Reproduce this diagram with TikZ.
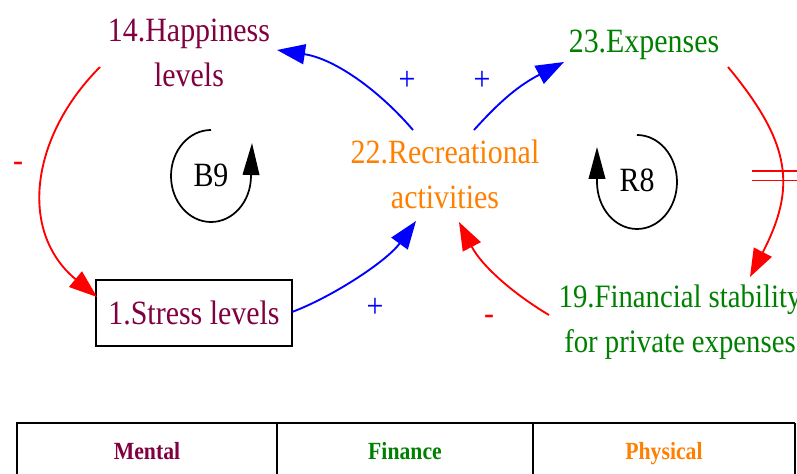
\documentclass[tikz,border=0pt]{standalone}
\usepackage{fontspec}
\setmainfont[FakeStretch=0.88]{Liberation Serif}
\usetikzlibrary{arrows.meta}
\definecolor{cmaroon}{RGB}{128,0,64}
\definecolor{cgreen}{RGB}{0,128,0}
\definecolor{corange}{RGB}{255,128,0}
\tikzset{
  lbl/.style={font=\fontsize{25.5pt}{33.75pt}\selectfont, align=center, inner sep=0pt},
  tbl/.style={font=\fontsize{18.5pt}{20pt}\selectfont\bfseries, inner sep=0pt, anchor=base},
  conn/.style={line width=1.4pt, -{Triangle[length=21pt,width=15pt]}},
  loopline/.style={line width=1.3pt, black, -{Triangle[length=24pt,width=12.5pt]}},
  boxnode/.style={draw=black, line width=1.5pt, minimum width=147pt, minimum height=49.5pt, inner sep=0pt}
}
\begin{document}
\begin{tikzpicture}[x=0.75pt,y=-0.75pt]
\clip (0,0) rectangle (797,474);
\fill[white] (0,0) rectangle (797,474);

% variables
\node[lbl, text=cmaroon] (hap) at (189,53) {14.Happiness\\levels};
\node[lbl, text=cgreen] (exp) at (644,45) {23.Expenses};
\node[lbl, text=corange] (rec) at (445,174) {22.Recreational\\activities};
\node[lbl, text=cgreen, font=\fontsize{24.5pt}{33.75pt}\selectfont] (fin) at (680,322.5) {19.Financial stability\\for private expenses};
\node[boxnode, lbl, text=cmaroon] (stress) at (194,313) {1.Stress levels};

% loop labels
\node[lbl] (b9) at (211,175.5) {B9};
\node[lbl] (r8) at (637,180.5) {R8};

% connectors
\draw[conn, red] ([shift={(-89,14)}]hap.center) .. controls +(-68.5,68.5) and +(-79.5,-66) .. ([shift={(-97,-16)}]stress.center);
\draw[conn, blue] ([shift={(98,-1)}]stress.center) .. controls +(40,-15) and +(-29.5,40.5) .. ([shift={(-29,47)}]rec.center);
\draw[conn, blue] ([shift={(-32,-44)}]rec.center) .. controls +(-32.5,-38) and +(59,9) .. ([shift={(88,-3)}]hap.center);
\draw[conn, blue] ([shift={(29,-44)}]rec.center) .. controls +(27,-30) and +(-44.5,23) .. ([shift={(-80,17)}]exp.center);
\draw[conn, red] ([shift={(84,22)}]exp.center) .. controls +(64,77) and +(46,-89) .. ([shift={(70,-45.5)}]fin.center);
\draw[conn, red] ([shift={(-131,-7.5)}]fin.center) .. controls +(-34.4,-20.4) and +(23,44.5) .. ([shift={(14,48)}]rec.center);

% delay mark
\draw[red, line width=1.3pt] (752,171) -- (797,171);
\draw[red, line width=1.3pt] (752,180.5) -- (797,180.5);

% polarity signs
\node[lbl, text=red] (m1) at (18,167) {-};
\node[lbl, text=blue] (p1) at (407,81) {+};
\node[lbl, text=blue] (p2) at (482,81) {+};
\node[lbl, text=blue] (p3) at (375,308) {+};
\node[lbl, text=red] (m2) at (489,320) {-};

% loop arrows
\draw[loopline] ([shift={(0,-45.5)}]b9.center) arc[start angle=270, end angle=0, x radius=40, y radius=46] -- ++(1,-33);
\draw[loopline] ([shift={(0,-45.5)}]r8.center) arc[start angle=-90, end angle=180, x radius=40, y radius=47] -- ++(0,-35);

% legend table
\draw[line width=1.5pt] (17,480) -- (17,422.5) -- (277,422.5) -- (277,480);
\draw[line width=0.9pt] (277,423) -- (795,423);
\draw[line width=0.9pt] (533,423) -- (533,480);
\draw[line width=0.9pt] (795,423) -- (795,480);
\node[tbl, text=cmaroon] (tmental) at (147,459) {Mental};
\node[tbl, text=cgreen] (tfin) at (405,459) {Finance};
\node[tbl, text=corange] (tphys) at (664,459) {Physical};
\end{tikzpicture}
\end{document}
